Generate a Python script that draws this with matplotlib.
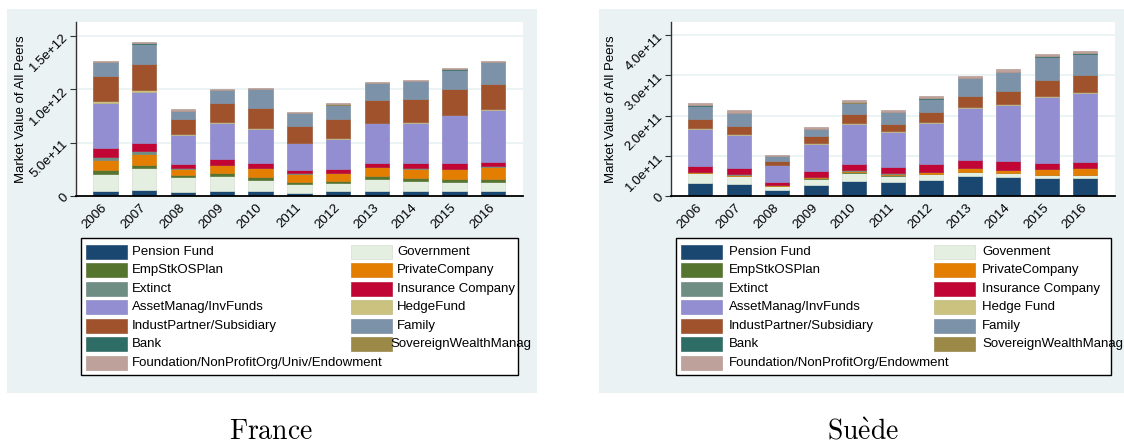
import numpy as np
import matplotlib
matplotlib.use("Agg")
import matplotlib.pyplot as plt
from matplotlib.patches import Rectangle
from matplotlib.colors import to_rgb

plt.rcParams["font.family"] = ["Liberation Sans", "DejaVu Sans"]
plt.rcParams["mathtext.fontset"] = "cm"

years = ["2006", "2007", "2008", "2009", "2010", "2011",
         "2012", "2013", "2014", "2015", "2016"]

labels_fr = ["Pension Fund", "Government", "EmpStkOSPlan", "PrivateCompany",
             "Extinct", "Insurance Company", "AssetManag/InvFunds", "HedgeFund",
             "IndustPartner/Subsidiary", "Family", "Bank", "SovereignWealthManag",
             "Foundation/NonProfitOrg/Univ/Endowment"]
labels_se = ["Pension Fund", "Govenment", "EmpStkOSPlan", "PrivateCompany",
             "Extinct", "Insurance Company", "AssetManag/InvFunds", "Hedge Fund",
             "IndustPartner/Subsidiary", "Family", "Bank", "SovereignWealthManag",
             "Foundation/NonProfitOrg/Endowment"]

colors = ["#1a476f", "#e4efe2", "#55752f", "#e37e00", "#6e8e84", "#c10534",
          "#938dd2", "#cac27e", "#a0522d", "#7b92a8", "#2d6d66", "#9c8847",
          "#bfa19c"]

# France, market value in units of 1e11
fr_pension = [0.47, 0.56, 0.34, 0.47, 0.44, 0.31, 0.44, 0.50, 0.47, 0.44, 0.44]
fr_government = [1.59, 2.03, 1.41, 1.37, 1.03, 0.85, 0.75, 1.06, 0.97, 0.87, 0.84]
fr_empstk = [0.38, 0.35, 0.25, 0.29, 0.28, 0.18, 0.19, 0.31, 0.28, 0.28, 0.31]
fr_private = [0.94, 1.03, 0.53, 0.75, 0.84, 0.69, 0.75, 0.82, 0.84, 0.91, 1.16]
fr_extinct = [0.31, 0.25, 0.10, 0.07, 0.07, 0.09, 0.06, 0.06, 0.06, 0.06, 0.06]
fr_insurance = [0.81, 0.78, 0.40, 0.56, 0.47, 0.35, 0.34, 0.38, 0.44, 0.50, 0.41]
fr_asset = [4.25, 4.78, 2.72, 3.31, 3.16, 2.47, 2.84, 3.69, 3.81, 4.50, 4.87]
fr_hedge = [0.12, 0.13, 0.09, 0.07, 0.06, 0.06, 0.07, 0.06, 0.07, 0.06, 0.07]
fr_indust = [2.41, 2.50, 1.35, 1.79, 1.91, 1.59, 1.81, 2.13, 2.15, 2.38, 2.31]
fr_family = [1.25, 1.87, 0.78, 1.25, 1.78, 1.16, 1.31, 1.56, 1.69, 1.84, 2.09]
fr_bank = [0.02, 0.02, 0.01, 0.02, 0.02, 0.01, 0.01, 0.02, 0.02, 0.02, 0.02]
fr_sovereign = [0.01, 0.01, 0.01, 0.01, 0.01, 0.01, 0.01, 0.01, 0.01, 0.01, 0.01]
fr_foundation = [0.10, 0.10, 0.13, 0.06, 0.06, 0.09, 0.13, 0.10, 0.09, 0.10, 0.10]

# Sweden, market value in units of 1e10
se_pension = [3.33, 2.92, 1.58, 2.67, 3.67, 3.58, 4.00, 4.92, 4.83, 4.42, 4.58]
se_government = [2.34, 2.08, 0.92, 1.66, 2.16, 1.50, 1.50, 1.08, 0.92, 0.75, 0.59]
se_empstk = [0.08, 0.08, 0.08, 0.08, 0.08, 0.08, 0.08, 0.08, 0.08, 0.08, 0.08]
se_private = [0.25, 0.25, 0.25, 0.34, 0.42, 0.42, 0.42, 0.84, 0.67, 1.42, 1.75]
se_extinct = [0.05, 0.05, 0.03, 0.05, 0.05, 0.05, 0.05, 0.05, 0.05, 0.05, 0.05]
se_insurance = [1.53, 1.70, 0.64, 1.45, 1.62, 1.70, 1.95, 2.03, 2.20, 1.53, 1.53]
se_asset = [9.09, 8.17, 4.17, 6.67, 10.00, 8.59, 10.25, 12.83, 13.92, 16.33, 17.09]
se_hedge = [0.25, 0.25, 0.16, 0.25, 0.25, 0.16, 0.25, 0.25, 0.25, 0.25, 0.25]
se_indust = [2.33, 2.00, 0.84, 1.75, 2.17, 1.92, 2.33, 2.84, 3.33, 3.92, 4.16]
se_family = [3.25, 3.17, 1.16, 1.75, 2.75, 2.83, 3.42, 4.33, 4.58, 5.92, 5.34]
se_bank = [0.05, 0.05, 0.03, 0.05, 0.05, 0.05, 0.05, 0.05, 0.05, 0.05, 0.05]
se_sovereign = [0.05, 0.05, 0.03, 0.05, 0.05, 0.05, 0.05, 0.05, 0.10, 0.05, 0.10]
se_foundation = [0.57, 0.56, 0.36, 0.48, 0.65, 0.49, 0.48, 0.57, 0.74, 0.65, 0.55]

fr_series = [fr_pension, fr_government, fr_empstk, fr_private, fr_extinct,
             fr_insurance, fr_asset, fr_hedge, fr_indust, fr_family, fr_bank,
             fr_sovereign, fr_foundation]
se_series = [se_pension, se_government, se_empstk, se_private, se_extinct,
             se_insurance, se_asset, se_hedge, se_indust, se_family, se_bank,
             se_sovereign, se_foundation]

fr_ticks = [0, 5e11, 1e12, 1.5e12]
fr_ticklabels = ["0", "5.0e+11", "1.0e+12", "1.5e+12"]
se_ticks = [0, 1e11, 2e11, 3e11, 4e11]
se_ticklabels = ["0", "1.0e+11", "2.0e+11", "3.0e+11", "4.0e+11"]

W, H = 1124, 443
BG = "#eaf2f3"
FS = 9.5

fig = plt.figure(figsize=(W / 100, H / 100), dpi=100)
fig.patch.set_facecolor("white")

# pixel-space canvas for panel backgrounds, legends and captions
canvas = fig.add_axes([0, 0, 1, 1], zorder=-1)
canvas.set_xlim(0, W)
canvas.set_ylim(H, 0)
canvas.axis("off")


def px_axes(x0, x1, y0, y1):
    return fig.add_axes([x0 / W, (H - y1) / H, (x1 - x0) / W, (y1 - y0) / H])


def outline(c):
    # bar outline: a slightly greyer shade of the fill
    r, g, b = to_rgb(c)
    return (0.85 * r + 0.08, 0.85 * g + 0.08, 0.85 * b + 0.08)


def stacked(ax, series, scale, ticks, ticklabels, ytop):
    x = np.arange(len(years))
    bottom = np.zeros(len(years))
    for vals, c in zip(series, colors):
        v = np.array(vals) * scale
        ax.bar(x, v, bottom=bottom, width=0.63, color=c,
               edgecolor=outline(c), linewidth=0.5)
        bottom += v
    ax.set_xlim(-0.76, 10.77)
    ax.set_ylim(0, ytop)
    ax.set_xticks(x)
    ax.set_xticklabels(years, rotation=45, rotation_mode="anchor",
                       ha="right", va="center", fontsize=FS)
    ax.tick_params(axis="x", length=0, pad=7)
    ax.set_yticks(ticks)
    ax.set_yticklabels(ticklabels, rotation=45, rotation_mode="anchor",
                       ha="right", va="center", fontsize=FS)
    ax.tick_params(axis="y", length=4, width=0.8, color="#333333", pad=3)
    ax.set_axisbelow(True)
    ax.yaxis.grid(True, color=BG, linewidth=1.3)
    for s in ["top", "right"]:
        ax.spines[s].set_visible(False)
    ax.spines["left"].set_color("#333333")
    ax.spines["left"].set_linewidth(1.0)
    ax.spines["bottom"].set_color("black")
    ax.spines["bottom"].set_linewidth(1.3)


def legend_box(x0, x1, labels, sw1, sw2, tx1, tx2, sov_x):
    canvas.add_patch(Rectangle((x0, 238), x1 - x0, 137, facecolor="white",
                               edgecolor="black", linewidth=1.0))
    rows = [251.7, 270.2, 288.7, 307.2, 325.7, 344.2, 362.7]
    for i, (lab, c) in enumerate(zip(labels, colors)):
        r = rows[i // 2]
        sx = sw1 if i % 2 == 0 else sw2
        tx = tx1 if i % 2 == 0 else tx2
        if lab.startswith("Sovereign"):
            tx = sov_x
        canvas.add_patch(Rectangle((sx, r - 7), 41, 14, facecolor=c,
                                   edgecolor=outline(c), linewidth=0.5))
        canvas.text(tx, r, lab, ha="left", va="center", fontsize=FS)


# panel backgrounds
canvas.add_patch(Rectangle((7, 9), 530, 384, facecolor=BG, edgecolor="none"))
canvas.add_patch(Rectangle((599, 9), 525, 384, facecolor=BG, edgecolor="none"))

ax_fr = px_axes(76, 523, 22, 196)
stacked(ax_fr, fr_series, 1e11, fr_ticks, fr_ticklabels, 1.63e12)
ax_se = px_axes(671, 1115, 22, 196)
stacked(ax_se, se_series, 1e10, se_ticks, se_ticklabels, 4.33e11)

canvas.text(21, 109, "Market Value of All Peers", rotation=90,
            ha="center", va="center", fontsize=FS)
canvas.text(611, 109, "Market Value of All Peers", rotation=90,
            ha="center", va="center", fontsize=FS)

legend_box(81, 518, labels_fr, 86, 351, 132, 397, 390)
legend_box(676, 1111, labels_se, 681, 934, 729, 982, 982)

canvas.text(271, 439, r"$\mathrm{France}$", ha="center", va="baseline",
            fontsize=20)
canvas.text(863, 439, r"$\mathrm{Su\grave{e}de}$", ha="center", va="baseline",
            fontsize=20)

fig.savefig("out.png", dpi=100, facecolor="white")
